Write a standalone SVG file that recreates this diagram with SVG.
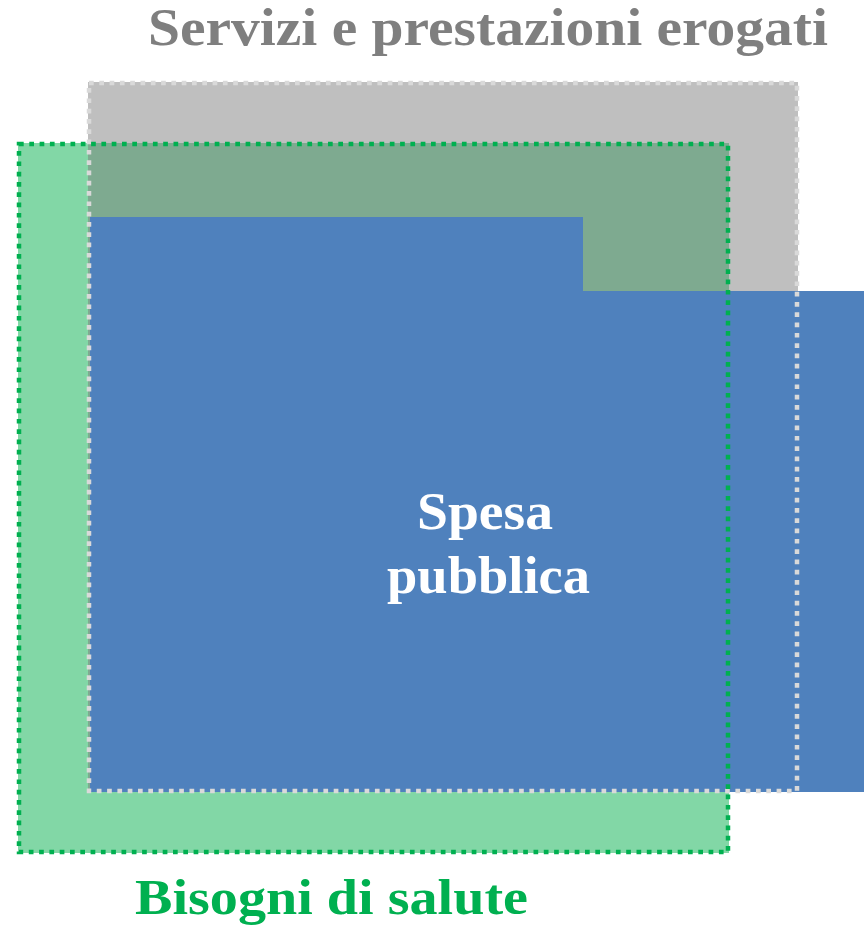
<svg xmlns="http://www.w3.org/2000/svg" width="864" height="928" viewBox="0 0 864 928">
<style>
.lbl{font-family:"Liberation Serif","DejaVu Serif",serif;font-weight:bold}
.gb{fill:none;stroke:#d9d9d9;stroke-width:4.5;stroke-dasharray:4.7 5.6}
.grb{fill:none;stroke:#00b050;stroke-width:4.5;stroke-dasharray:4.7 5.6}
</style>
<rect width="864" height="928" fill="#ffffff"/>
<g id="servizi">
<rect x="88" y="82" width="710" height="710" fill="#bfbfbf"/>
</g>
<g id="bisogni">
<rect x="18" y="143" width="711" height="710" fill="#82d7a6"/>
<rect x="88" y="143" width="641" height="649" fill="#7eaa90"/>
</g>
<g id="spesa">
<path d="M90 217 H583 V291 H864 V792 H90 Z" fill="#4f81bd"/>
</g>
<g id="borders">
<rect class="gb" x="89" y="83" width="708" height="708"/>
<rect class="grb" x="19" y="144" width="709" height="708"/>
</g>
<g id="labels">
<text class="lbl" x="148" y="45" font-size="52" fill="#7f7f7f" textLength="680" lengthAdjust="spacingAndGlyphs">Servizi e prestazioni erogati</text>
<text class="lbl" x="417" y="529" font-size="52" fill="#ffffff" textLength="136" lengthAdjust="spacingAndGlyphs">Spesa</text>
<text class="lbl" x="387" y="593" font-size="52" fill="#ffffff" textLength="203" lengthAdjust="spacingAndGlyphs">pubblica</text>
<text class="lbl" x="135" y="914" font-size="50" fill="#00b050" textLength="393" lengthAdjust="spacingAndGlyphs">Bisogni di salute</text>
</g>
</svg>
